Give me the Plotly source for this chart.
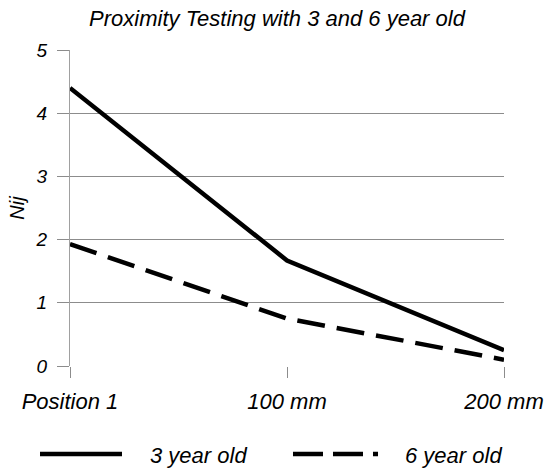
import plotly.graph_objects as go

categories = ["Position 1", "100 mm", "200 mm"]
series_names = ["3 year old", "6 year old"]
age3 = [4.40, 1.67, 0.25]
age6 = [1.93, 0.75, 0.10]
y_ticks = [0, 1, 2, 3, 4, 5]

FONT = "Liberation Sans, Arial, sans-serif"
GRID = "#8c8c8c"
DASH = "28px,12px"

fig = go.Figure()
fig.add_trace(go.Scatter(x=categories, y=age3, mode="lines", name=series_names[0],
                         line=dict(color="black", width=4.5)))
fig.add_trace(go.Scatter(x=categories, y=age6, mode="lines", name=series_names[1],
                         line=dict(color="black", width=4.5, dash=DASH)))

fig.update_layout(
    width=547, height=468,
    margin=dict(l=70, r=43, t=50, b=102),
    paper_bgcolor="white", plot_bgcolor="white",
    font=dict(family=FONT, size=20, color="black", style="italic"),
    title=dict(text="Proximity Testing with 3 and 6 year old", x=0.477, xref="paper",
               xanchor="center", yref="container", y=1 - 18 / 468, yanchor="middle",
               pad=dict(t=0, b=0), font=dict(size=22, style="italic")),
    showlegend=False,
)

# legend drawn as line samples + text
fig.add_shape(type="line", xref="paper", yref="paper", x0=-0.0691, x1=0.1198,
              y0=-0.2785, y1=-0.2785, line=dict(color="black", width=4.5))
fig.add_shape(type="line", xref="paper", yref="paper", x0=0.5138, x1=0.7097,
              y0=-0.2785, y1=-0.2785, line=dict(color="black", width=4.5, dash="30px,10px"))
fig.add_annotation(text=series_names[0], xref="paper", yref="paper", x=0.1797, y=-0.2848,
                   xanchor="left", yanchor="middle", showarrow=False,
                   font=dict(size=22, style="italic"))
fig.add_annotation(text=series_names[1], xref="paper", yref="paper", x=0.7673, y=-0.2848,
                   xanchor="left", yanchor="middle", showarrow=False,
                   font=dict(size=22, style="italic"))

fig.update_xaxes(type="category", range=[0, 2], showgrid=False, showline=False,
                 ticks="outside", ticklen=11, tickcolor=GRID, zeroline=False,
                 ticklabelstandoff=5, automargin=False,
                 tickfont=dict(size=22, style="italic"))
fig.update_yaxes(range=[0, 5], tickvals=y_ticks, showgrid=True, gridcolor=GRID,
                 gridwidth=1, showline=True, linecolor="#a0a0a0", ticks="outside",
                 ticklen=12, tickcolor=GRID, zeroline=False, automargin=False,
                 ticklabelstandoff=6,
                 tickfont=dict(size=19, style="italic"),
                 title=dict(text="Nij", standoff=5, font=dict(size=20, style="italic")))

fig.write_html("out.html", config={"displayModeBar": False},
               post_script="document.body.style.margin='0';document.body.style.overflow='hidden';")
